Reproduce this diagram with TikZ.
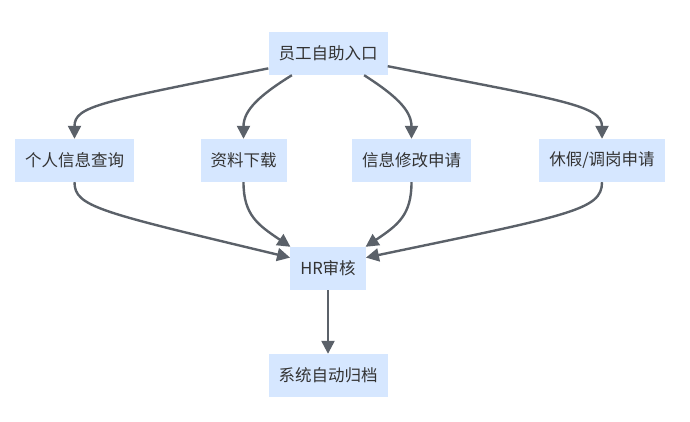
\documentclass[tikz,border=0pt]{standalone}
\usepackage{fontspec}
\setmainfont{Noto Sans CJK SC}
\usepackage{tikz}
\usetikzlibrary{positioning, arrows.meta}

\definecolor{boxfill}{HTML}{D6E7FF}
\definecolor{linkgray}{HTML}{5B6169}
\definecolor{textgray}{HTML}{333333}

\begin{document}
\begin{tikzpicture}[
      x=1pt, y=-1pt,
      box/.style={rectangle, fill=boxfill, text=textgray, minimum height=43pt,
        inner xsep=10pt, font=\fontsize{16.5}{18}\selectfont},
      link/.style={-{Triangle[length=13pt, width=13pt]}, linkgray, line width=2.4pt}
  ]
  \useasboundingbox (0,0) rectangle (690,421);

  \node[box] (entry) at (328,53.5) {员工自助入口};

  \foreach \name/\x/\txt in {query/74.5/个人信息查询, download/243.5/资料下载,
                             modify/411.5/信息修改申请, leave/602/{休假/调岗申请}} {
      \node[box] (\name) at (\x,160.5) {\txt};
  }

  \node[box] (review) at (328,268.5) {HR审核};
  \node[box] (archive) at (328,375.5) {系统自动归档};

  % from the entry
  \draw[link] (entry.194) .. controls (100,102) and (74.5,106) .. (query.north);
  \draw[link] (entry.211) .. controls (260,95) and (243.5,110) .. (download.north);
  \draw[link] (entry.329) .. controls (395,95) and (411.5,110) .. (modify.north);
  \draw[link] (entry.348) .. controls (560,100) and (602,105) .. (leave.north);

  % into HR review
  \draw[link] (query.south) .. controls (74.5,207) and (100,212) .. (review.164);
  \draw[link] (download.south) .. controls (243.5,215) and (258,225) .. (review.150);
  \draw[link] (modify.south) .. controls (411.5,215) and (398,225) .. (review.30);
  \draw[link] (leave.south) .. controls (602,210) and (570,215) .. (review.16);

  \draw[link] (review) -- (archive);
\end{tikzpicture}
\end{document}
